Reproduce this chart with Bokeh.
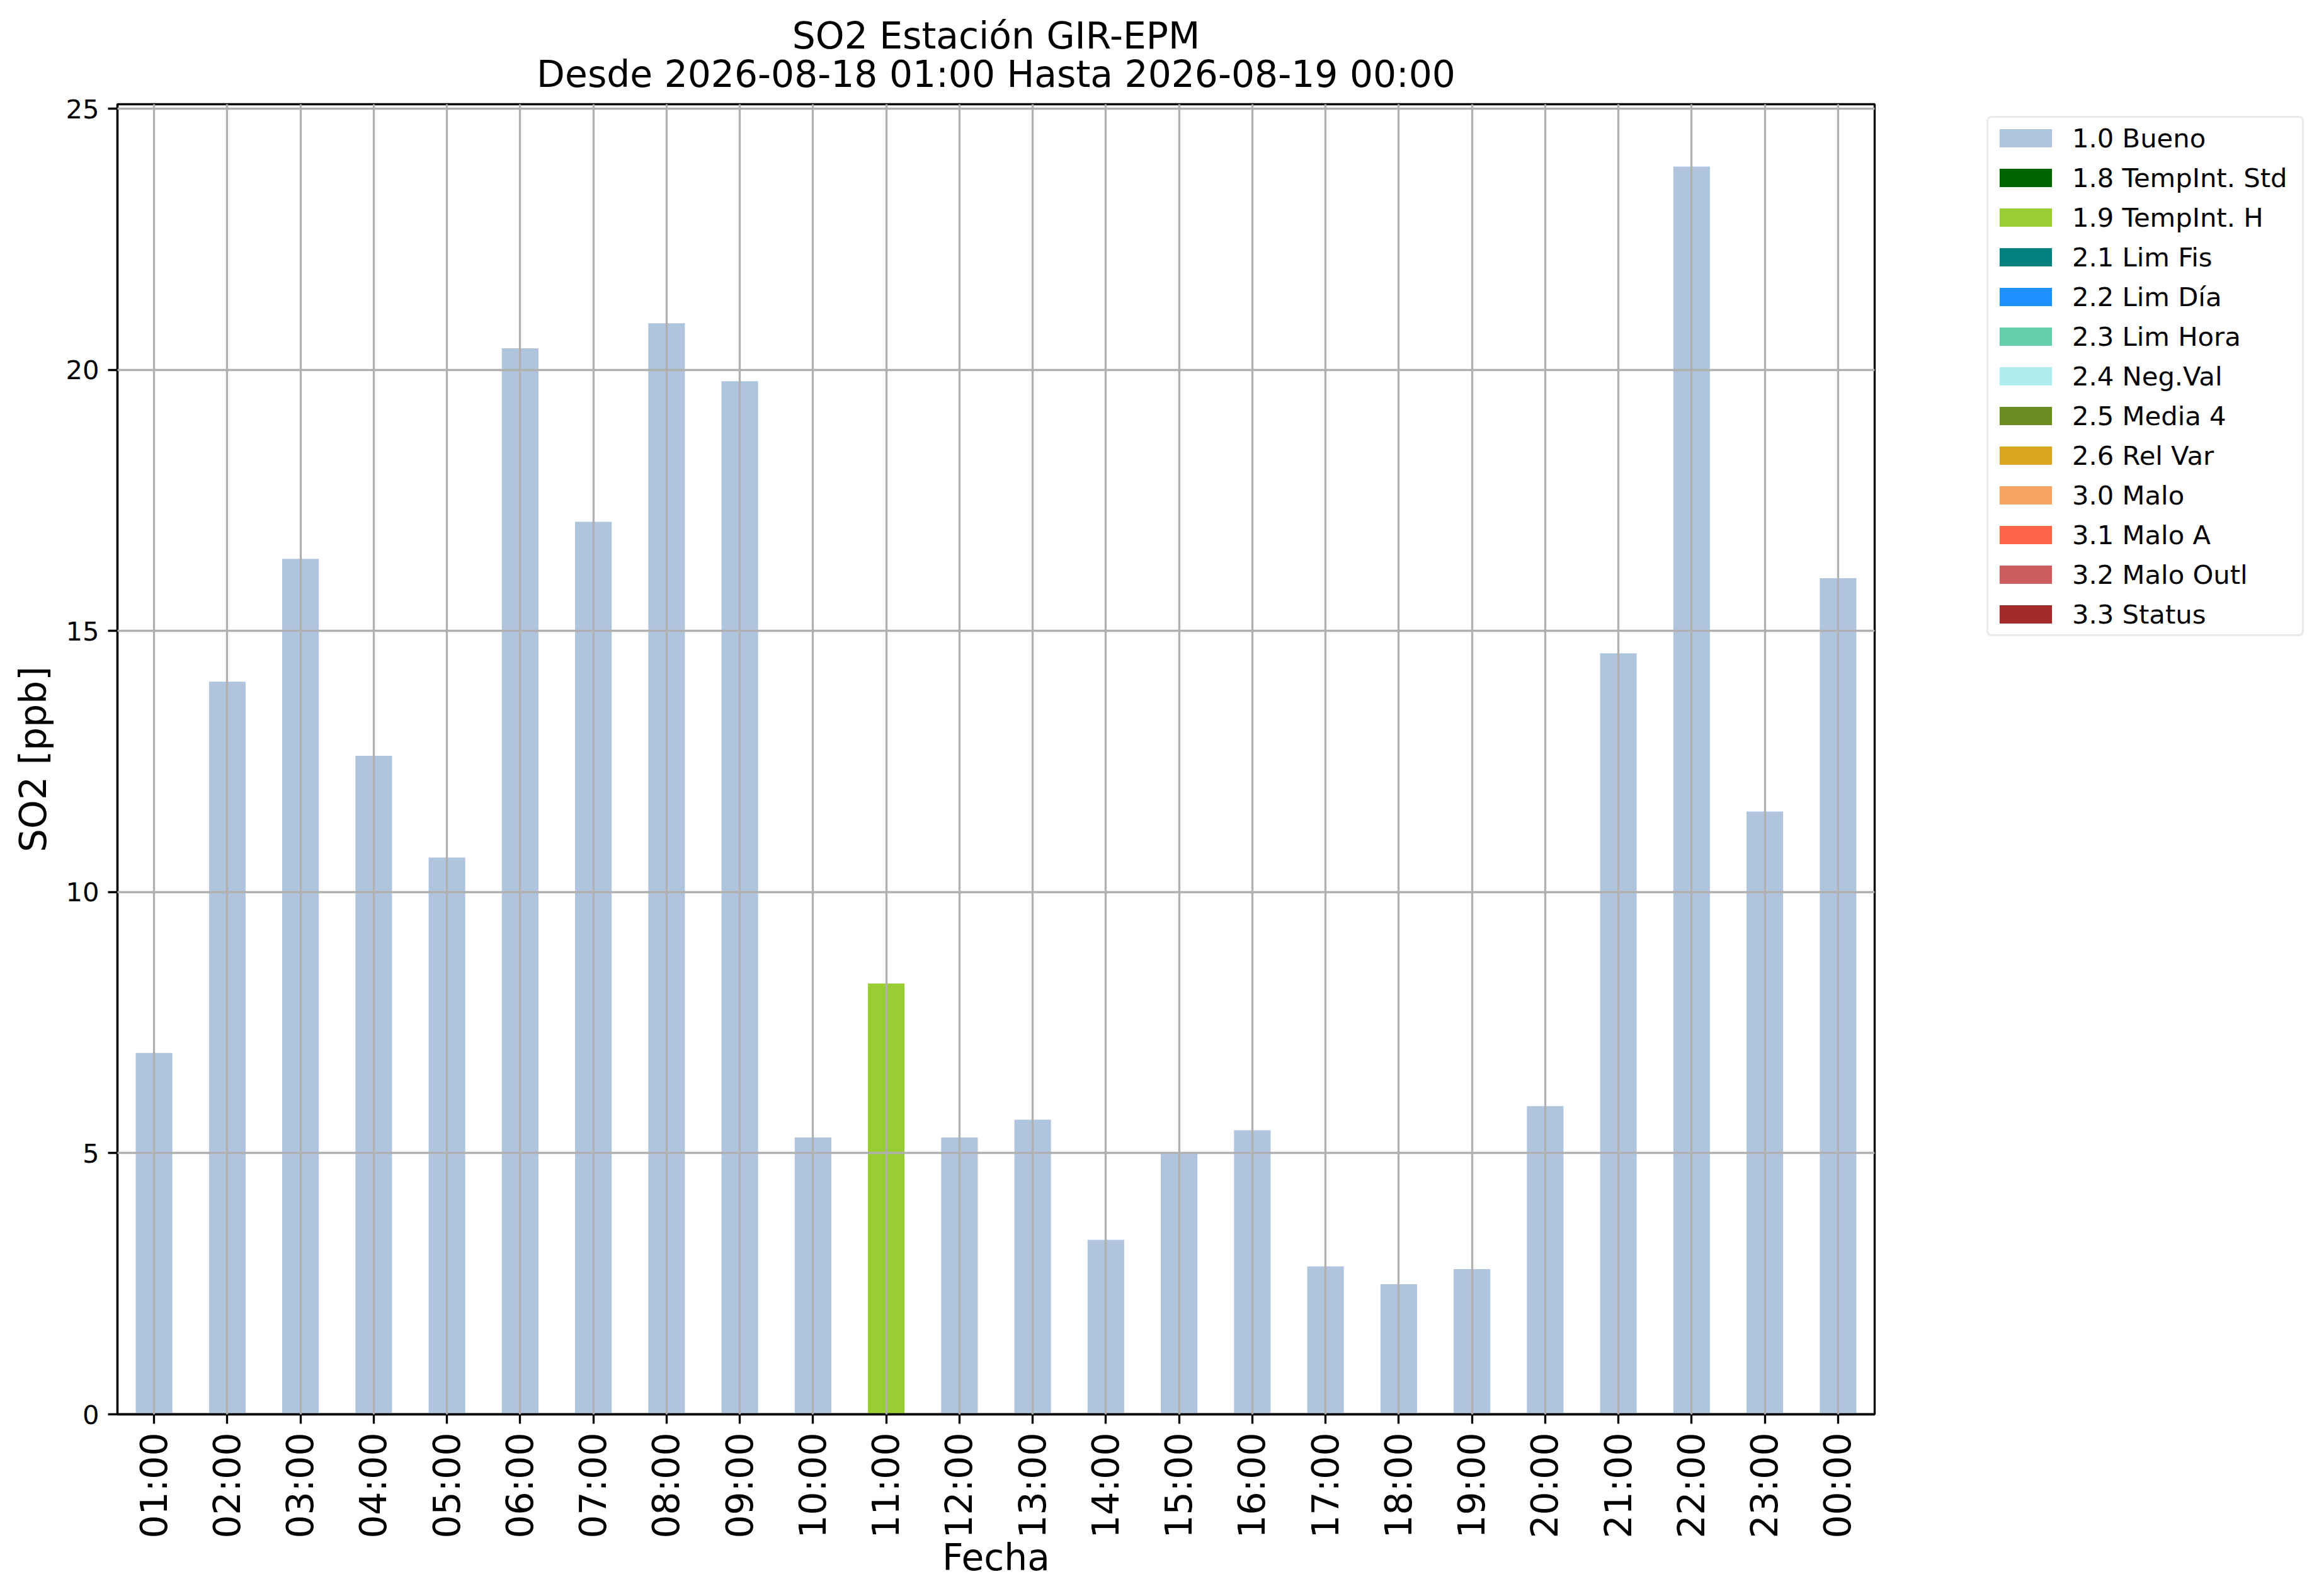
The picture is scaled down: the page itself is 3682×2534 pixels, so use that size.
import math
from bokeh.plotting import figure
from bokeh.models import (ColumnDataSource, FactorRange, Range1d, Legend, LegendItem,
                          SingleIntervalTicker, Title)
from bokeh.embed import file_html
from bokeh.resources import INLINE

# ---------------- data ----------------
hours = ["01:00", "02:00", "03:00", "04:00", "05:00", "06:00", "07:00", "08:00",
         "09:00", "10:00", "11:00", "12:00", "13:00", "14:00", "15:00", "16:00",
         "17:00", "18:00", "19:00", "20:00", "21:00", "22:00", "23:00", "00:00"]
so2_values = [6.92, 14.03, 16.38, 12.61, 10.66, 20.41, 17.09, 20.89,
              19.78, 5.30, 8.25, 5.30, 5.64, 3.34, 5.02, 5.44,
              2.83, 2.49, 2.78, 5.90, 14.57, 23.89, 11.54, 16.01]
hour_flags = ["1.0 Bueno", "1.0 Bueno", "1.0 Bueno", "1.0 Bueno", "1.0 Bueno", "1.0 Bueno",
              "1.0 Bueno", "1.0 Bueno", "1.0 Bueno", "1.0 Bueno", "1.9 TempInt. H", "1.0 Bueno",
              "1.0 Bueno", "1.0 Bueno", "1.0 Bueno", "1.0 Bueno", "1.0 Bueno", "1.0 Bueno",
              "1.0 Bueno", "1.0 Bueno", "1.0 Bueno", "1.0 Bueno", "1.0 Bueno", "1.0 Bueno"]
flag_labels = ["1.0 Bueno", "1.8 TempInt. Std", "1.9 TempInt. H", "2.1 Lim Fis",
               "2.2 Lim Día", "2.3 Lim Hora", "2.4 Neg.Val", "2.5 Media 4",
               "2.6 Rel Var", "3.0 Malo", "3.1 Malo A", "3.2 Malo Outl", "3.3 Status"]
flag_colors = ["#B0C4DE", "#006400", "#9ACD32", "#008080", "#1E90FF", "#66CDAA",
               "#AFEEEE", "#6B8E23", "#DAA520", "#F4A460", "#FF6347", "#CD5C5C", "#A52A2A"]
title_lines = ["SO2 Estación GIR-EPM", "Desde 2026-08-18 01:00 Hasta 2026-08-19 00:00"]
x_label = "Fecha"
y_label = "SO2 [ppb]"

# ---------------- build ----------------
data = {"hour": hours}
for lab in flag_labels:
    data[lab] = [v if f == lab else 0.0 for v, f in zip(so2_values, hour_flags)]
src = ColumnDataSource(data)

FONT = "DejaVu Sans"
PT = 300 / 72.0
LW = 0.8 * PT

p = figure(x_range=FactorRange(factors=hours, range_padding=0),
           y_range=Range1d(0, max(so2_values) * 1.05),
           frame_width=2790, frame_height=2080,
           min_border_left=186, min_border_right=706,
           min_border_top=165, min_border_bottom=289,
           output_backend="svg", toolbar_location=None)

renderers = p.vbar_stack(flag_labels, x="hour", width=0.5, source=src,
                         color=flag_colors, line_color=None, line_width=0)

# title: two centred lines (first added sits closest to the frame)
for i, line in enumerate(reversed(title_lines)):
    t = Title(text=line, align="center", text_font=FONT,
              text_font_size=f"{14*PT:.1f}px", text_font_style="normal",
              text_color="black", standoff=(28 if i == 0 else -47))
    p.add_layout(t, "above")

# frame
p.outline_line_color = "black"
p.outline_line_width = LW
p.background_fill_color = "white"
p.border_fill_color = "white"

# grid
for g in (p.xgrid, p.ygrid):
    g.grid_line_color = "#b0b0b0"
    g.grid_line_width = LW
    g.level = "annotation"

# axes
for ax in (p.xaxis, p.yaxis):
    ax.axis_line_color = "black"
    ax.axis_line_width = LW
    ax.major_tick_line_color = "black"
    ax.major_tick_line_width = LW
    ax.major_tick_out = int(round(3.5 * PT))
    ax.major_tick_in = 0
    ax.minor_tick_line_color = None
    ax.major_label_text_font = FONT
    ax.major_label_text_color = "black"
    ax.major_label_standoff = 14
    ax.axis_label_text_font = FONT
    ax.axis_label_text_font_style = "normal"
    ax.axis_label_text_color = "black"
    ax.axis_label_text_font_size = f"{14*PT:.1f}px"

p.yaxis.ticker = SingleIntervalTicker(interval=5)
p.yaxis.major_label_text_font_size = f"{10*PT:.1f}px"
p.yaxis.axis_label = y_label
p.yaxis.axis_label_standoff = 14

p.xaxis.major_label_text_font_size = f"{14*PT:.1f}px"
p.xaxis.major_label_orientation = math.pi / 2
p.xaxis.axis_label = x_label
p.xaxis.axis_label_standoff = -7

# legend (outside, right of the frame)
items = [LegendItem(label=lab, renderers=[r]) for lab, r in zip(flag_labels, renderers)]
legend = Legend(items=items, location=(178, 1235), orientation="vertical")
legend.label_text_font = FONT
legend.label_text_font_size = f"{10*PT:.1f}px"
legend.label_text_color = "black"
legend.glyph_width = 104
legend.glyph_height = 36
legend.label_height = 50
legend.label_width = 358
legend.padding = 7
legend.spacing = 13
legend.label_standoff = 22
legend.margin = 0
legend.title_standoff = 0
legend.title_text_font_size = "0px"
legend.border_line_color = "#d6d6d6"
legend.border_line_width = 3.5
legend.border_radius = 8
legend.background_fill_color = "white"
legend.background_fill_alpha = 1.0
p.add_layout(legend, "right")

open("out.html", "w").write(file_html(p, INLINE))
